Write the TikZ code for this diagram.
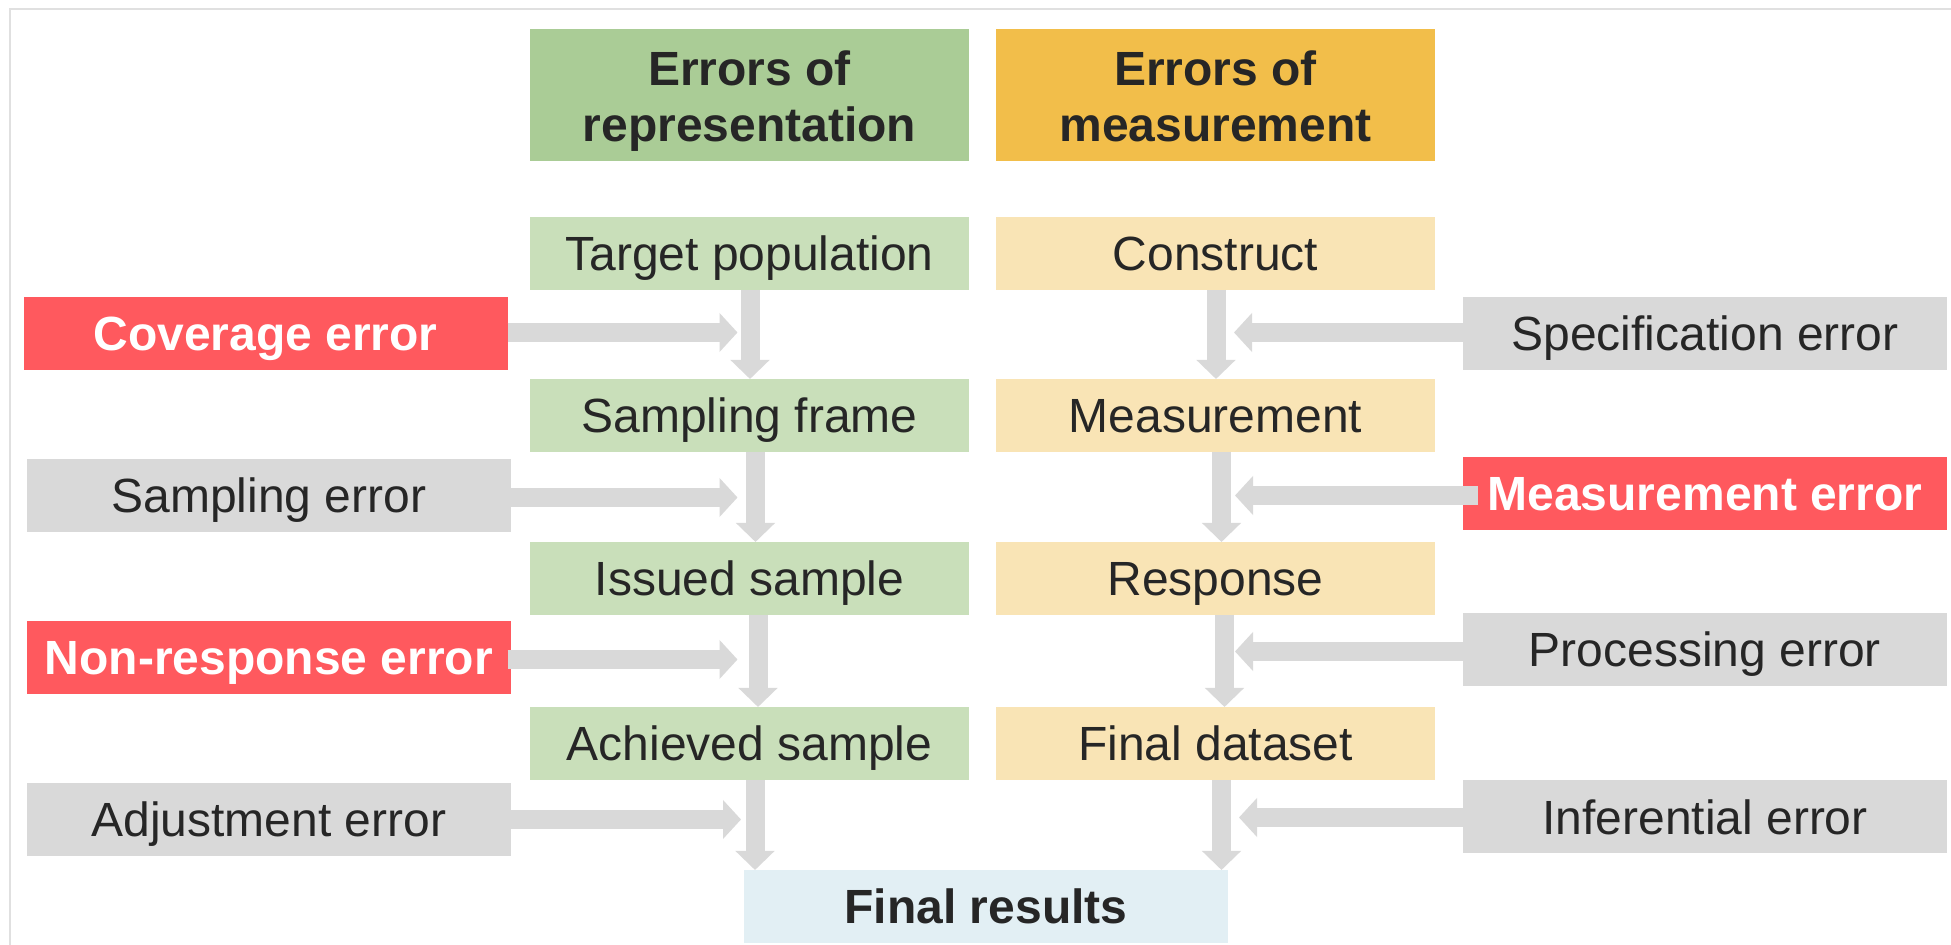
\documentclass[tikz,border=0pt]{standalone}
\usepackage{fontspec}
\setmainfont{Liberation Sans}
\usetikzlibrary{arrows.meta,calc}
\definecolor{hdrgreen}{HTML}{AACC96}
\definecolor{boxgreen}{HTML}{C9DFBA}
\definecolor{hdrorange}{HTML}{F2BE4A}
\definecolor{boxorange}{HTML}{F9E4B5}
\definecolor{errred}{HTML}{FF595E}
\definecolor{errgray}{HTML}{D9D9D9}
\definecolor{resblue}{HTML}{E2EFF4}
\definecolor{txtdark}{HTML}{262626}
\definecolor{framegray}{HTML}{E0E0E0}
\begin{document}
\begin{tikzpicture}[x=0.5pt,y=-0.5pt,
  basebox/.style={inner sep=0pt, outer sep=0pt, minimum height=36.5pt,
    text height=17.2pt, text depth=0pt,
    font=\fontsize{24pt}{29pt}\selectfont, text=txtdark},
  stepG/.style={basebox, fill=boxgreen, minimum width=219.5pt},
  stepO/.style={basebox, fill=boxorange, minimum width=219.5pt},
  errR/.style={basebox, fill=errred, minimum width=242pt, text=white,
    font=\fontsize{24pt}{29pt}\selectfont\bfseries},
  errG/.style={basebox, fill=errgray, minimum width=242pt},
  resbox/.style={basebox, fill=resblue, minimum width=242pt,
    font=\fontsize{24pt}{29pt}\selectfont\bfseries},
  hdr/.style={inner sep=0pt, outer sep=0pt, minimum width=219.5pt, minimum height=66pt},
  htext/.style={inner sep=0pt, outer sep=0pt, anchor=base,
    font=\fontsize{24pt}{29pt}\selectfont\bfseries, text=txtdark},
  harrow/.style={draw=errgray, line width=9.5pt, -{Triangle[width=19pt,length=9pt]}},
  varrow/.style={draw=errgray, line width=9.5pt, -{Triangle[width=19pt,length=9.5pt]}},
]
\useasboundingbox (0,0) rectangle (1951,945);
\fill[white] (0,0) rectangle (1951,945);
\draw[framegray, line width=1pt] (9.5,945) -- (9.5,9.5) -- (1951,9.5);

% headers
\node[hdr, fill=hdrgreen] (hR) at (749.5,95) {};
\node[htext] (hR1) at ([yshift=4.85pt]hR.center) {Errors of};
\node[htext] (hR2) at ([yshift=-23.35pt]hR.center) {representation};
\node[hdr, fill=hdrorange] (hM) at (1215.5,95) {};
\node[htext] (hM1) at ([yshift=4.85pt]hM.center) {Errors of};
\node[htext] (hM2) at ([yshift=-23.35pt]hM.center) {measurement};

% left column
\node[stepG] (tp) at (749.5,253.5) {Target population};
\node[stepG] (sf) at (749.5,415.5) {Sampling frame};
\node[stepG] (is) at (749.5,578.5) {Issued sample};
\node[stepG] (as) at (749.5,743.5) {Achieved sample};

% right column
\node[stepO] (co) at (1215.5,253.5) {Construct};
\node[stepO] (me) at (1215.5,415.5) {Measurement};
\node[stepO] (re) at (1215.5,578.5) {Response};
\node[stepO] (fd) at (1215.5,743.5) {Final dataset};

% left errors
\node[errR] (ce) at (265.5,333.5) {Coverage error};
\node[errG] (se) at (269,495.5) {Sampling error};
\node[errR] (ne) at (269,657.5) {Non-response error};
\node[errG] (ae) at (269,819.5) {Adjustment error};

% right errors
\node[errG] (spe) at (1705,333.5) {Specification error};
\node[errR] (mee) at (1705,493.5) {Measurement error};
\node[errG] (pe) at (1705,649.5) {Processing error};
\node[errG] (ie) at (1705,817) {Inferential error};

% final results
\node[resbox] (fr) at (986,906.5) {Final results};

% vertical arrows, left
\draw[varrow] ([xshift=0.25pt]tp.south) -- ([xshift=0.25pt]tp.south |- sf.north);
\draw[varrow] ([xshift=3pt]sf.south) -- ([xshift=3pt]sf.south |- is.north);
\draw[varrow] ([xshift=4.25pt]is.south) -- ([xshift=4.25pt]is.south |- as.north);
\draw[varrow] ([xshift=2.75pt]as.south) -- ([xshift=2.75pt]as.south |- fr.north);

% vertical arrows, right
\draw[varrow] ([xshift=0.25pt]co.south) -- ([xshift=0.25pt]co.south |- me.north);
\draw[varrow] ([xshift=3pt]me.south) -- ([xshift=3pt]me.south |- re.north);
\draw[varrow] ([xshift=4.5pt]re.south) -- ([xshift=4.5pt]re.south |- fd.north);
\draw[varrow] ([xshift=3pt]fd.south) -- ([xshift=3pt]fd.south |- fr.north);

% horizontal arrows, left
\draw[harrow] ([yshift=0.5pt]ce.east) -- ([yshift=0.5pt,xshift=-6pt]ce.east -| tp.south);
\draw[harrow] ([yshift=-1pt]se.east) -- ([yshift=-1pt,xshift=-6pt]se.east -| sf.south);
\draw[harrow] ([yshift=-1pt,xshift=-1.75pt]ne.east) -- ([yshift=-1pt,xshift=-6pt]ne.east -| is.south);
\draw[harrow] (ae.east) -- ([xshift=-4.25pt]ae.east -| as.south);

% horizontal arrows, right
\draw[harrow] ([yshift=0.5pt]spe.west) -- ([yshift=0.5pt,xshift=9.25pt]spe.west -| co.south);
\draw[harrow] ([yshift=-1pt,xshift=7.5pt]mee.west) -- ([yshift=-1pt,xshift=9.75pt]mee.west -| me.south);
\draw[harrow] ([yshift=-1pt]pe.west) -- ([yshift=-1pt,xshift=9.75pt]pe.west -| re.south);
\draw[harrow] ([yshift=-0.25pt]ie.west) -- ([yshift=-0.25pt,xshift=11.75pt]ie.west -| fd.south);
\end{tikzpicture}
\end{document}
